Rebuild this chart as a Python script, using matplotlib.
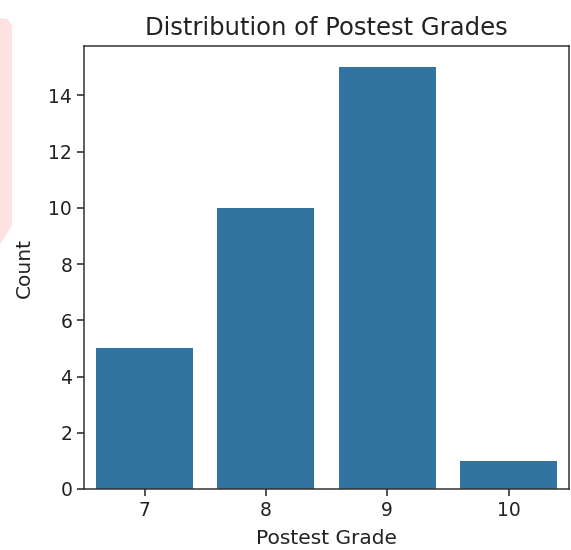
import matplotlib.pyplot as plt
from matplotlib.patches import Polygon

# Data
grades = ["7", "8", "9", "10"]
counts = [5, 10, 15, 1]
y_ticks = [0, 2, 4, 6, 8, 10, 12, 14]

fig = plt.figure(figsize=(5.71, 5.5), dpi=100)
ax = fig.add_axes([0.147, 0.111, 0.850, 0.805])

# faint pink mark on the left edge of the screenshot
fig.patches.append(Polygon([[0, 1 - 18/550], [8/571, 1 - 19/550], [12/571, 1 - 26/550],
                            [12/571, 1 - 225/550], [0, 1 - 245/550]],
                           closed=True, transform=fig.transFigure,
                           facecolor="#fde2e2", edgecolor="none"))

ax.bar(range(len(grades)), counts, width=0.8, color="#3274a1")
ax.set_xticks(range(len(grades)))
ax.set_xticklabels(grades)
ax.set_yticks(y_ticks)
ax.set_xlim(-0.5, len(grades) - 0.5)

ax.set_title("Distribution of Postest Grades", fontsize=17.5, color="#222222", pad=8)
ax.set_xlabel("Postest Grade", fontsize=14.5, color="#222222", labelpad=7)
ax.set_ylabel("Count", fontsize=14.5, color="#222222", labelpad=10)
ax.tick_params(labelsize=13.5, length=5, width=1.1, colors="#222222")
for s in ax.spines.values():
    s.set_linewidth(1.1)
    s.set_color("#333333")

plt.savefig("out.png", dpi=100)
